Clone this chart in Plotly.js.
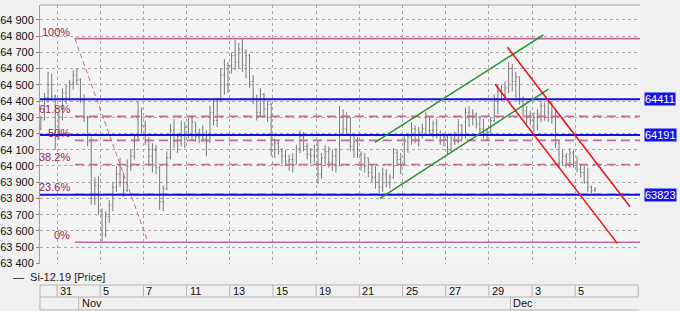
<!DOCTYPE html>
<html><head><meta charset="utf-8">
<script src="https://cdn.plot.ly/plotly-3.0.1.min.js"></script>
<style>html,body{margin:0;padding:0;background:#f0f0f0;}#chart{width:680px;height:311px;}</style>
</head><body><div id="chart"></div>
<script>
// ---- data ----
const seriesName = 'Si-12.19 [Price]';
// hourly-ish bars, 6 per trading day; first bar = slot 1 of day -1 (Oct 30)
const barsPerDay = 6, firstDay = -1, firstSlot = 1;
const openP = [
 64230,64290,64420,64500,64430,
 64180,64300,64450,64420,64510,64560,
 64530,64410,64300,64150,63800,63880,
 63720,63580,63690,63760,63870,63950,
 63900,63850,64000,64060,64180,64340,
 64250,64150,64060,64100,63990,63780,
 63860,64050,64220,64150,64180,64160,
 64240,64200,64270,64180,64200,64170,
 64150,64330,64280,64400,64560,64500,
 64620,64680,64640,64720,64620,64680,
 64520,64420,64330,64440,64350,64380,
 64100,64140,64090,64060,64030,64040,
 64010,64110,64180,64120,64070,64060,
 64100,63950,64050,64090,64020,64060,
 64000,64300,64230,64300,64120,64150,
 64070,64000,64050,63960,63930,63900,
 63870,63950,63900,63930,64080,64040,
 64000,64150,64180,64230,64160,64210,
 64230,64300,64220,64260,64190,64160,
 64180,64100,64170,64150,64250,64190,
 64330,64300,64320,64260,64230,64200,
 64210,64280,64400,64460,64440,64480,
 64600,64520,64550,64410,64340,64300,
 64280,64300,64320,64370,64300,64390,
 64300,64140,64020,64060,64020,64080,
 64020,63980,63960,63900,63870,63850];
const highP = [
 64310,64450,64580,64570,64440,
 64330,64480,64500,64530,64590,64600,
 64540,64440,64310,64180,63930,63940,
 63740,63720,63790,63900,64000,64050,
 63960,64040,64100,64200,64400,64360,
 64280,64180,64140,64130,64000,63880,
 64090,64260,64290,64200,64280,64270,
 64300,64310,64270,64230,64250,64220,
 64370,64410,64420,64600,64660,64640,
 64700,64780,64760,64790,64720,64690,
 64560,64440,64480,64450,64400,64390,
 64170,64160,64110,64100,64070,64080,
 64130,64220,64210,64140,64110,64130,
 64160,64080,64130,64120,64100,64110,
 64370,64350,64330,64300,64190,64180,
 64090,64080,64050,64010,64000,63960,
 63990,63980,63950,64110,64100,64080,
 64190,64200,64270,64250,64240,64260,
 64330,64300,64280,64290,64220,64200,
 64190,64200,64210,64290,64260,64360,
 64370,64350,64330,64310,64290,64230,
 64300,64440,64500,64500,64520,64640,
 64630,64580,64550,64430,64370,64340,
 64330,64350,64400,64390,64420,64390,
 64340,64160,64100,64080,64110,64100,
 64060,64010,64010,63990,63880,63870];
const lowP = [
 64220,64280,64390,64400,64100,
 64160,64280,64380,64400,64470,64500,
 64390,64270,64120,63760,63760,63700,
 63530,63560,63650,63720,63840,63870,
 63810,63840,63970,64040,64160,64200,
 64130,64010,63960,63950,63730,63720,
 63850,64040,64110,64080,64120,64110,
 64170,64160,64150,64140,64150,64060,
 64140,64250,64240,64400,64440,64450,
 64570,64590,64600,64580,64540,64480,
 64380,64280,64300,64300,64270,64060,
 64050,64070,64010,64000,63970,63960,
 64010,64080,64090,64040,64010,64020,
 63890,63920,64000,63990,63970,63960,
 64000,64190,64190,64090,64050,64050,
 63970,63960,63930,63900,63860,63830,
 63840,63870,63860,63920,64000,63950,
 64000,64080,64130,64140,64120,64170,
 64190,64190,64170,64170,64130,64120,
 64070,64090,64130,64140,64160,64170,
 64240,64250,64230,64200,64170,64160,
 64200,64270,64320,64400,64410,64450,
 64460,64420,64380,64310,64260,64250,
 64210,64220,64270,64280,64270,64260,
 64110,63990,64000,63990,63990,63990,
 63960,63930,63890,63840,63830,63840];
const closeP = [
 64290,64420,64500,64430,64180,
 64300,64450,64420,64510,64560,64530,
 64410,64300,64150,63800,63880,63720,
 63580,63690,63760,63870,63950,63900,
 63850,64000,64060,64180,64340,64250,
 64150,64060,64100,63990,63780,63860,
 64050,64220,64150,64180,64160,64240,
 64200,64270,64180,64200,64170,64150,
 64330,64280,64400,64560,64500,64620,
 64680,64640,64720,64620,64680,64520,
 64420,64330,64440,64350,64380,64100,
 64140,64090,64060,64030,64040,64010,
 64110,64180,64120,64070,64060,64100,
 63950,64050,64090,64020,64060,64000,
 64300,64230,64300,64120,64150,64070,
 64000,64050,63960,63930,63900,63870,
 63950,63900,63930,64080,64040,64000,
 64150,64180,64230,64160,64210,64230,
 64300,64220,64260,64190,64160,64180,
 64100,64170,64150,64250,64190,64330,
 64300,64320,64260,64230,64200,64210,
 64280,64400,64460,64440,64480,64600,
 64520,64550,64410,64340,64300,64280,
 64300,64320,64370,64300,64390,64300,
 64140,64020,64060,64020,64080,64020,
 63980,63960,63900,63870,63850,63860];

// trading-day index: 0=Oct 31, 1=Nov 1, 2=Nov 5 ... 21=Dec 2 ... 24=Dec 5
const tickDays   = [0,2,4,6,8,10,12,14,16,18,20,22,24];
const tickLabels = ['31','5','7','11','13','15','19','21','25','27','29','3','5'];
const monthDays   = [1,21];
const monthLabels = ['Nov','Dec'];

// Fibonacci retracement
const fibHigh = 64785, fibLow = 63530;
const fibStartDay = 0.825, fibEndDay = 4.21;
const fibRatios = [0, 0.236, 0.382, 0.5, 0.618, 1];
const fibLabels = ['0%','23.6%','38.2%','50%','61.8%','100%'];

// horizontal levels
const levels = [64411, 64191, 63823];

// channels (day index, price)
const greenUpperX = [14.73, 22.53], greenUpperY = [64146, 64808];
const greenLowerX = [14.96, 22.76], greenLowerY = [63801, 64473];
const redUpperX = [20.86, 26.54], redUpperY = [64732, 63749];
const redLowerX = [20.29, 25.95], redLowerY = [64504, 63523];

// ---- build ----
const barX = openP.map((_, i) => firstDay + (firstSlot + i + 0.5) / barsPerDay);
const xRange = [-0.79, 27.0];
const yRange = [63396, 64992];
const FONT = 'Liberation Sans, Arial, sans-serif';
const fibLine = '#c4699a', fibText = '#8e1f58';
const boxLine = '#b4b4b4';
const gridC = '#a9a9a9';

const traces = [{
  type: 'ohlc', name: seriesName, x: barX,
  open: openP, high: highP, low: lowP, close: closeP,
  increasing: {line: {color: '#7a7a7a', width: 1}},
  decreasing: {line: {color: '#7a7a7a', width: 1}},
  tickwidth: 0.3, hoverinfo: 'skip', showlegend: false
}];

const shapes = [];
const annotations = [];
// top border
shapes.push({type:'line', xref:'paper', yref:'paper', x0:0, x1:1, y0:1, y1:1, line:{color:'#a0a0a0', width:1}});

// fib lines
fibRatios.forEach((r, i) => {
  const v = fibLow + r * (fibHigh - fibLow);
  const solid = (r === 0 || r === 1);
  shapes.push({type:'line', xref:'x', yref:'y', x0: fibStartDay, x1: xRange[1], y0: v, y1: v,
    line:{color: fibLine, width: 1.6, dash: solid ? 'solid' : '9px,5px'}});
  annotations.push({xref:'x', yref:'y', x: fibStartDay, y: v, text: fibLabels[i], showarrow:false,
    xanchor:'right', yanchor:'bottom', xshift:-3, yshift:-1, font:{family:FONT, size:11, color: fibText}});
});
shapes.push({type:'line', xref:'x', yref:'y', x0: fibStartDay, x1: fibEndDay, y0: fibHigh, y1: fibLow,
  line:{color: fibLine, width: 1, dash: '5px,3px'}});

// levels
levels.forEach(v => {
  shapes.push({type:'line', xref:'paper', yref:'y', x0:0, x1:1, y0:v, y1:v, line:{color:'#1010e8', width:2}});
  annotations.push({xref:'paper', yref:'y', x:1, y:v, text: String(v), showarrow:false,
    xanchor:'left', yanchor:'middle', xshift:4, bgcolor:'#1414ee', borderpad:0,
    font:{family:FONT, size:11, color:'#ffffff'}});
});

// channels
[[greenUpperX, greenUpperY, '#22962a'], [greenLowerX, greenLowerY, '#22962a'],
 [redUpperX, redUpperY, '#ee1010'], [redLowerX, redLowerY, '#ee1010']].forEach(([xs, ys, c]) => {
  shapes.push({type:'line', xref:'x', yref:'y', x0: xs[0], x1: xs[1], y0: ys[0], y1: ys[1], line:{color:c, width:1.5}});
});

// date box
const rowTop = -0.081, rowMid = -0.1274, rowBot = -0.1776;
[rowTop, rowMid, rowBot].forEach(yy => shapes.push({type:'line', xref:'paper', yref:'paper', x0:0, x1:0.997, y0:yy, y1:yy, line:{color:boxLine, width:1}}));
shapes.push({type:'line', xref:'paper', yref:'paper', x0:0, x1:0, y0:rowTop, y1:rowBot, line:{color:boxLine, width:1}});
shapes.push({type:'line', xref:'paper', yref:'paper', x0:0.997, x1:0.997, y0:rowTop, y1:rowMid, line:{color:boxLine, width:1}});
tickDays.forEach((d, i) => {
  shapes.push({type:'line', xref:'x', yref:'paper', x0:d, x1:d, y0:rowTop, y1:rowMid, line:{color:boxLine, width:1}});
  annotations.push({xref:'x', yref:'paper', x:d, y:(rowTop+rowMid)/2, text: tickLabels[i], showarrow:false,
    xanchor:'left', yanchor:'middle', xshift:1, font:{family:FONT, size:11, color:'#111'}});
});
monthDays.forEach((d, i) => {
  shapes.push({type:'line', xref:'x', yref:'paper', x0:d, x1:d, y0:rowMid, y1:rowBot, line:{color:boxLine, width:1}});
  annotations.push({xref:'x', yref:'paper', x:d, y:(rowMid+rowBot)/2, text: monthLabels[i], showarrow:false,
    xanchor:'left', yanchor:'middle', xshift:1, font:{family:FONT, size:11, color:'#111'}});
});

// legend text
annotations.push({xref:'paper', yref:'paper', x:-0.048, y:-0.05, text:'—  ' + seriesName, showarrow:false,
  xanchor:'left', yanchor:'middle', font:{family:FONT, size:11, color:'#222'}});

const yCommon = {range: yRange, dtick: 100, tick0: 63400, tickformat: ',d', ticks:'outside', ticklen:3,
  tickcolor:'#888', showline:true, linecolor:'#a0a0a0', zeroline:false, fixedrange:true,
  tickfont:{family:FONT, size:11, color:'#111'}};

const layout = {
  width: 680, height: 311,
  margin: {l:40, r:40, t:5, b:47, pad:0},
  paper_bgcolor: '#f0f0f0', plot_bgcolor: '#f4f4f4',
  separators: '. ',
  showlegend: false,
  font: {family: FONT, size: 11},
  xaxis: {range: xRange, tickvals: tickDays, showticklabels:false, ticks:'', showgrid:true,
    gridcolor: gridC, griddash:'dot', gridwidth:1, zeroline:false, showline:false,
    rangeslider:{visible:false}, fixedrange:true},
  yaxis: Object.assign({}, yCommon, {showgrid:true, gridcolor: gridC, griddash:'dot', gridwidth:1}),
  yaxis2: Object.assign({}, yCommon, {overlaying:'y', side:'right', showgrid:false, ticklen:4}),
  shapes: shapes,
  annotations: annotations
};

Plotly.newPlot('chart', traces, layout, {displayModeBar:false, staticPlot:true});
</script></body></html>
